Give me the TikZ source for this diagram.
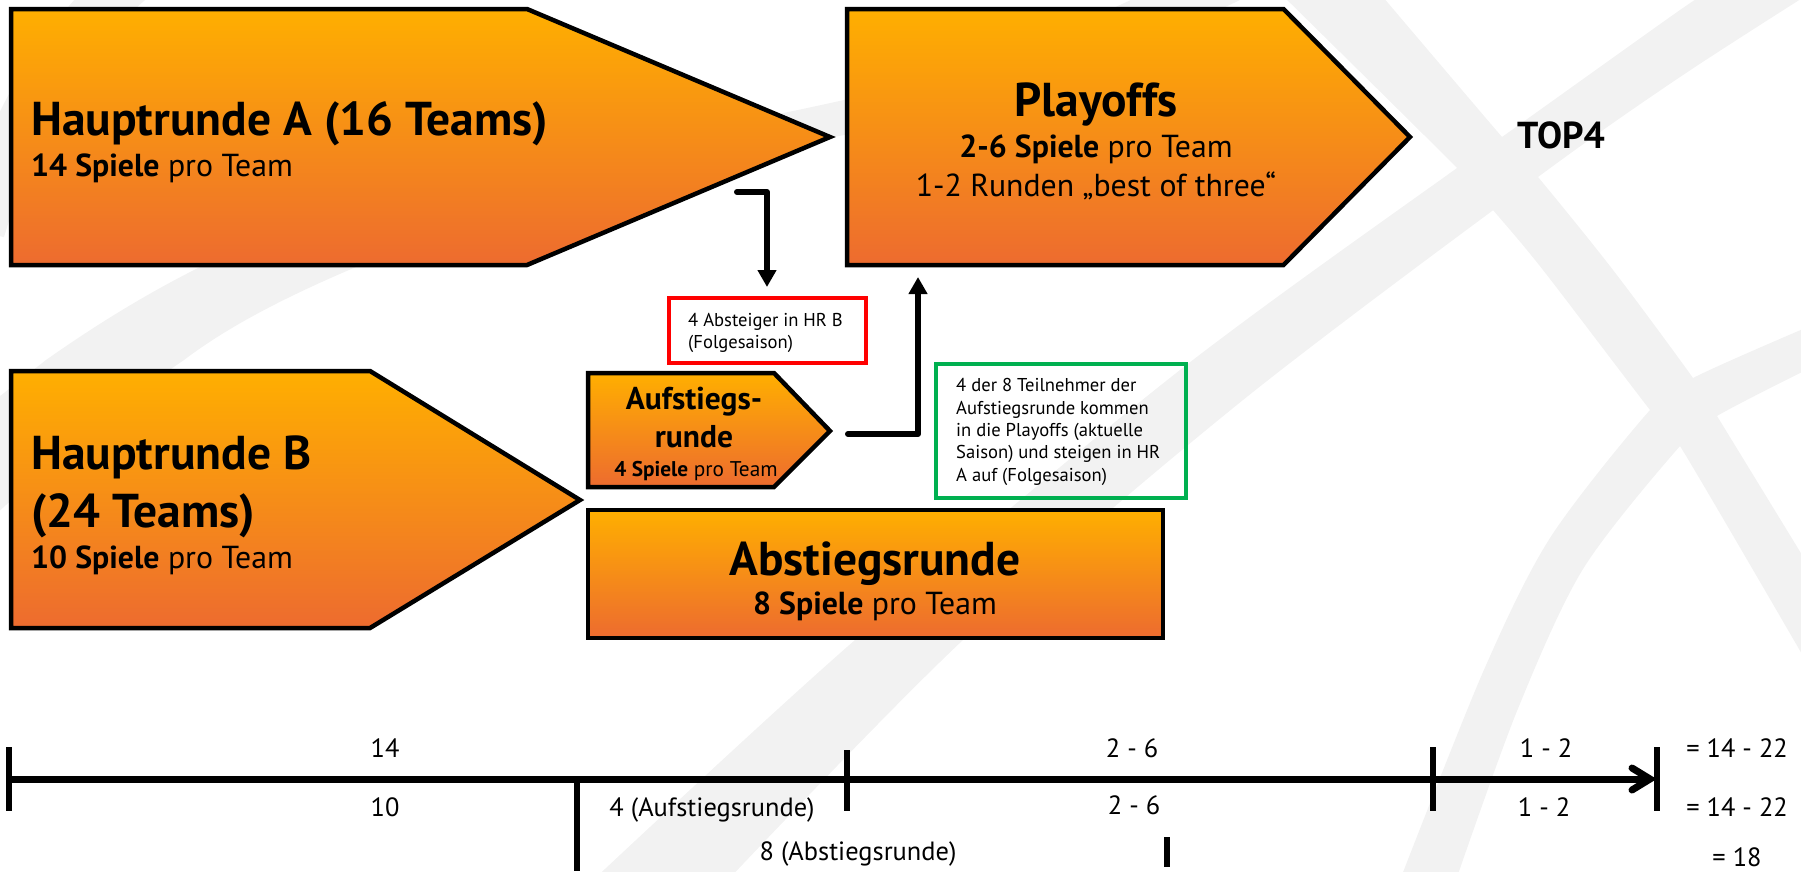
\documentclass[tikz,border=0pt]{standalone}
\usepackage{fontspec}
\setmainfont{PT Sans}
\usetikzlibrary{arrows.meta}
\definecolor{wm}{HTML}{F2F2F2}
\definecolor{gtop}{HTML}{FFAF00}
\definecolor{gbot}{HTML}{ED6B2F}
\definecolor{redbox}{HTML}{FF0000}
\definecolor{greenbox}{HTML}{00B050}
\newcommand{\fs}[1]{\fontsize{#1}{#1}\selectfont}
\tikzset{
  band/.style={draw=wm,line width=#1},
  stage/.style={draw=black,line width=4.5pt,miter limit=10,top color=gtop,bottom color=gbot,middle color=gtop!50!gbot},
  head/.style={inner sep=0pt,font=\fs{47.5}\bfseries,text=black},
  sub/.style={inner sep=0pt,font=\fs{31.8},text=black},
  small/.style={inner sep=0pt,font=\fs{18.6},text=black},
  axis/.style={inner sep=0pt,font=\fs{26.4},text=black},
  conn/.style={draw=black,line width=6pt,line cap=round,line join=round,-{Triangle[length=17pt,width=18pt]}},
  tick/.style={draw=black,line width=6pt},
  note/.style={draw=#1,line width=4pt,fill=none,inner sep=0pt,outer sep=0pt},
}
\begin{document}
\begin{tikzpicture}[x=1pt,y=-1pt]
\useasboundingbox (0,0) rectangle (1801,871);
% watermark
\fill[wm] (-5,400) -- (46,360) .. controls (100,322) and (150,292) .. (200,267) .. controls (380,180) and (620,150) .. (844,100) .. controls (950,70) and (1060,35) .. (1141,-5) -- (1250,-5) .. controls (1120,60) and (980,105) .. (844,135) .. controls (650,175) and (470,210) .. (356,267) .. controls (290,295) and (230,325) .. (184,360) .. controls (110,410) and (50,465) .. (-5,515) -- cycle;
\draw[band=50pt] (130,-20) .. controls (60,40) and (10,130) .. (-20,230);
% band from top right to bottom left
\fill[wm] plot[smooth] coordinates {(1712,-10) (1680,10) (1502,137) (1457,168) (1180,370) (855,640) (590,883)} -- plot[smooth] coordinates {(725,883) (963,640) (1243,400) (1538,177) (1680,77) (1815,-10)} -- cycle;
% band from top left to bottom right
\fill[wm] plot[smooth] coordinates {(1277,-10) (1457,168) (1493,210) (1543,270) (1650,410) (1680,446) (1810,668)} -- plot[smooth] coordinates {(1810,568) (1717,416) (1693,378) (1613,270) (1538,177) (1502,137) (1377,-10)} -- cycle;
% band from right to bottom
\fill[wm] plot[smooth] coordinates {(1810,326) (1693,378) (1650,410) (1550,538) (1483,672) (1400,880)} -- plot[smooth] coordinates {(1456,880) (1517,711) (1583,569) (1680,446) (1717,416) (1810,368)} -- cycle;
% stages
\path[stage] (11,9) -- (527,9) -- (830,137) -- (527,265) -- (11,265) -- cycle;
\path[stage] (847,9) -- (1283.5,9) -- (1410,137) -- (1283.5,265) -- (847,265) -- cycle;
\path[stage] (11,371) -- (370,371) -- (580,500) -- (370,628) -- (11,628) -- cycle;
\path[stage] (588,373) -- (774,373) -- (830,431) -- (774,487) -- (588,487) -- cycle;
\path[stage] (588,510) -- (1163,510) -- (1163,638) -- (588,638) -- cycle;
% stage texts
\node[head,anchor=base west] (ha) at (31,135) {Hauptrunde A (16 Teams)};
\node[sub,anchor=base west] (has) at (31,176) {\textbf{14 Spiele} pro Team};
\node[head,anchor=base] (po) at (1096,116) {Playoffs};
\node[sub,anchor=base] (pos) at (1096,157) {\textbf{2-6 Spiele} pro Team};
\node[sub,anchor=base] (pot) at (1096,196) {1-2 Runden „best of three“};
\node[inner sep=0pt,font=\fs{37.5}\bfseries,anchor=base] (top) at (1561,148) {TOP4};
\node[head,anchor=base west] (hb) at (31,469) {Hauptrunde B};
\node[head,anchor=base west] (hbb) at (31,527) {(24 Teams)};
\node[sub,anchor=base west] (hbs) at (31,568) {\textbf{10 Spiele} pro Team};
\node[inner sep=0pt,font=\fs{31.5}\bfseries,anchor=base] (au) at (694,409) {Aufstiegs-};
\node[inner sep=0pt,font=\fs{31.5}\bfseries,anchor=base] (aub) at (694,447) {runde};
\node[inner sep=0pt,font=\fs{21.3},anchor=base] (aus) at (696,476) {\textbf{4 Spiele} pro Team};
\node[head,anchor=base] (ab) at (875,575) {Abstiegsrunde};
\node[sub,anchor=base] (abs) at (875,614) {\textbf{8 Spiele} pro Team};
% notes
\node[note=redbox,anchor=north west,minimum width=197pt,minimum height=65pt] (red) at (669,298) {};
\node[small,anchor=base west] at (688,326) (r1) {4 Absteiger in HR B};
\node[small,anchor=base west] at (688,348) (r2) {(Folgesaison)};
\node[note=greenbox,anchor=north west,minimum width=250pt,minimum height=134pt] (green) at (936,364) {};
\node[small,anchor=base west] at (956,391) (g1) {4 der 8 Teilnehmer der};
\node[small,anchor=base west] at (956,414) (g2) {Aufstiegsrunde kommen};
\node[small,anchor=base west] at (956,436) (g3) {in die Playoffs (aktuelle};
\node[small,anchor=base west] at (956,458) (g4) {Saison) und steigen in HR};
\node[small,anchor=base west] at (956,481) (g5) {A auf (Folgesaison)};
% connectors
\coordinate (c1s) at (737,192); \coordinate (c1e) at (767,287);
\coordinate (c2s) at (848,434); \coordinate (c2e) at (918,277);
\draw[conn] (c1s) -| (c1e);
\draw[conn] (c2s) -| (c2e);
% timeline
\coordinate (t0) at (9,779); \coordinate (t1) at (1650,779);
\coordinate (h1) at (1632,768); \coordinate (h2) at (1632,790);
\draw[draw=black,line width=7pt] (t0) -- (t1);
\draw[draw=black,line width=7pt,line cap=round,line join=miter] (h1) -- (t1) -- (h2);
\coordinate (a1) at (9,747); \coordinate (a2) at (9,811);
\coordinate (b1) at (847,750); \coordinate (b2) at (847,811);
\coordinate (d1) at (1433,747); \coordinate (d2) at (1433,811);
\coordinate (e1) at (1657,747); \coordinate (e2) at (1657,811);
\coordinate (f1) at (577,779); \coordinate (f2) at (577,871);
\coordinate (k1) at (1167,837); \coordinate (k2) at (1167,867);
\draw[tick] (a1) -- (a2);
\draw[tick] (b1) -- (b2);
\draw[tick] (d1) -- (d2);
\draw[tick] (e1) -- (e2);
\draw[tick] (f1) -- (f2);
\draw[tick] (k1) -- (k2);
\node[axis] (l1) at (385,748) {14};
\node[axis] (l2) at (385,807) {10};
\node[axis] (l3) at (712,810) {4 (Aufstiegsrunde)};
\node[axis] (l4) at (858,854) {8 (Abstiegsrunde)};
\node[axis] (l5) at (1132,748) {2 - 6};
\node[axis] (l6) at (1134,805) {2 - 6};
\node[axis] (l7) at (1546,748) {1 - 2};
\node[axis] (l8) at (1544,807) {1 - 2};
\node[axis] (l9) at (1737,748) {= 14 - 22};
\node[axis] (l10) at (1737,807) {= 14 - 22};
\node[axis] (l11) at (1737,857) {= 18};
\end{tikzpicture}
\end{document}
